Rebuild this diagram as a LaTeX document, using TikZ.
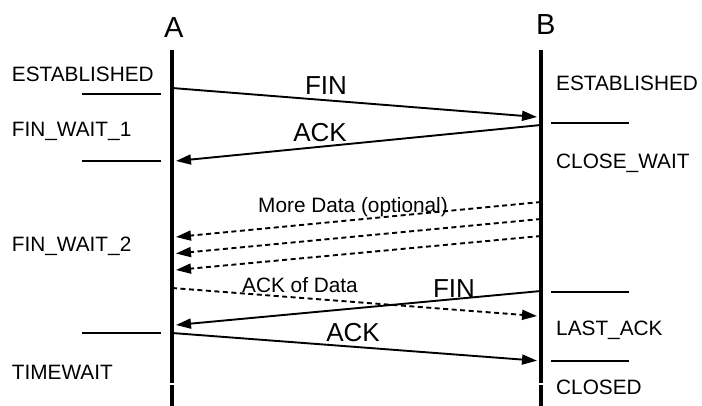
\documentclass[tikz,border=0pt]{standalone}
\usepackage{fontspec}
\setmainfont{Liberation Sans}
\usetikzlibrary{arrows.meta}
\begin{document}
\begin{tikzpicture}[x=1pt,y=-1pt,
  lifeline/.style={line width=3.3pt},
  msg/.style={line width=1.9pt,-{Triangle[length=15pt,width=10pt]}},
  dmsg/.style={msg, dash pattern=on 5pt off 3.5pt},
  tick/.style={line width=1.9pt},
  state/.style={font=\fontsize{20.8}{24}\selectfont, anchor=west, inner sep=0pt, text height=14.9pt, text depth=0pt},
  small/.style={state, anchor=center},
  big/.style={font=\fontsize{26}{30}\selectfont, inner sep=0pt, text height=18.6pt, text depth=0pt},
  hdr/.style={font=\fontsize{29}{34}\selectfont, inner sep=0pt, text height=20.8pt, text depth=0pt}]
\useasboundingbox (0,0) rectangle (702,406);
% headers
\node[hdr] (Alab) at (173.7,27) {A};
\node[hdr] (Blab) at (545.7,24) {B};
% lifelines
\coordinate (Atop) at (172,50);
\coordinate (Ag1) at (172,382.5);
\coordinate (Ag2) at (172,385);
\coordinate (Abot) at (172,406);
\coordinate (Btop) at (541,50);
\coordinate (Bg1) at (541,382.5);
\coordinate (Bg2) at (541,385);
\coordinate (Bbot) at (541,406);
\draw[lifeline] (Atop) -- (Ag1) (Ag2) -- (Abot);
\draw[lifeline] (Btop) -- (Bg1) (Bg2) -- (Bbot);
% left states
\node[state] (s1) at (11.7,74) {ESTABLISHED};
\node[state] (s2) at (11.7,129) {FIN\_WAIT\_1};
\node[state] (s3) at (11.7,244) {FIN\_WAIT\_2};
\node[state] (s4) at (11.7,372) {TIMEWAIT};
\coordinate (l1a) at (82,94);  \coordinate (l1b) at (161,94);
\coordinate (l2a) at (82,161); \coordinate (l2b) at (161,161);
\coordinate (l3a) at (82,333); \coordinate (l3b) at (161,333);
\draw[tick] (l1a) -- (l1b);
\draw[tick] (l2a) -- (l2b);
\draw[tick] (l3a) -- (l3b);
% right states
\node[state] (r1) at (556,83) {ESTABLISHED};
\node[state] (r2) at (556,161) {CLOSE\_WAIT};
\node[state] (r3) at (556,328) {LAST\_ACK};
\node[state] (r4) at (556,387.5) {CLOSED};
\coordinate (m1a) at (551,123);   \coordinate (m1b) at (629,123);
\coordinate (m2a) at (551,291.7); \coordinate (m2b) at (629,291.7);
\coordinate (m3a) at (551,360.7); \coordinate (m3b) at (629,360.7);
\draw[tick] (m1a) -- (m1b);
\draw[tick] (m2a) -- (m2b);
\draw[tick] (m3a) -- (m3b);
% messages
\coordinate (f1s) at (172,88);  \coordinate (f1e) at (537,117);
\coordinate (a1s) at (541,125); \coordinate (a1e) at (176,161);
\draw[msg] (f1s) -- (f1e);
\draw[msg] (a1s) -- (a1e);
\node[big] (finlab) at (326,85) {FIN};
\node[big] (acklab) at (320,132) {ACK};
% more data
\coordinate (d1s) at (541,202); \coordinate (d1e) at (176,237);
\coordinate (d2s) at (541,219); \coordinate (d2e) at (176,253.5);
\coordinate (d3s) at (541,236); \coordinate (d3e) at (176,270);
\draw[dmsg] (d1s) -- (d1e);
\draw[dmsg] (d2s) -- (d2e);
\draw[dmsg] (d3s) -- (d3e);
\node[small] (mdlab) at (353,205) {More Data (optional)};
% ack of data
\coordinate (ads) at (172,288); \coordinate (ade) at (537,316);
\draw[dmsg] (ads) -- (ade);
\node[small] (adlab) at (300,285) {ACK of Data};
% fin 2
\coordinate (f2s) at (541,291); \coordinate (f2e) at (176,325);
\draw[msg] (f2s) -- (f2e);
\node[big] (fin2lab) at (454,288) {FIN};
% ack 2
\coordinate (a2s) at (172,333); \coordinate (a2e) at (537,360.7);
\draw[msg] (a2s) -- (a2e);
\node[big] (ack2lab) at (353,332.5) {ACK};
\end{tikzpicture}
\end{document}
